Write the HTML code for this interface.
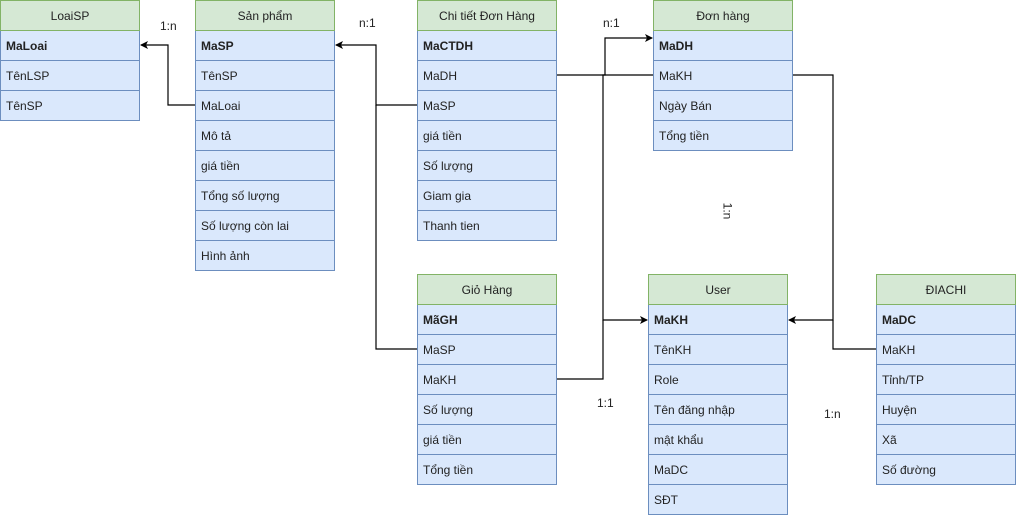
<!DOCTYPE html>
<html><head><meta charset="utf-8"><style>
body{margin:0;width:1017px;height:515px;background:#fff;position:relative;overflow:hidden;font-family:"Liberation Sans",Arial,sans-serif;font-size:12px;color:#222}
.t{position:absolute;width:140px}
.h{height:29px;background:#d5e8d4;border:1px solid #82b366;text-align:center;line-height:30px;box-sizing:content-box;width:138px}
.r{height:29px;background:#dae8fc;border:1px solid #6c8ebf;border-top:none;line-height:31px;padding-left:5px;width:133px}
.b{font-weight:bold}
.l{position:absolute;font-size:12px;color:#222}
svg{position:absolute;left:0;top:0}
</style></head><body>
<svg width="1017" height="515">
<defs><marker id="a" markerWidth="8" markerHeight="8" refX="7" refY="4" orient="auto" markerUnits="userSpaceOnUse"><path d="M0,0 L8,4 L0,8 L2,4 Z" fill="#000"/></marker></defs>
<g fill="none" stroke="#000" stroke-width="1.2">
<polyline points="195,105 168,105 168,45 141,45" marker-end="url(#a)"/>
<polyline points="417,105 376,105 376,45 336,45" marker-end="url(#a)"/>
<polyline points="417,349 376,349 376,105"/>
<polyline points="557,75 605,75 605,38 652,38" marker-end="url(#a)"/>
<polyline points="653,75 603,75 603,320 647,320" marker-end="url(#a)"/>
<polyline points="557,379 603,379 603,320"/>
<polyline points="793,75 833,75 833,320 789,320" marker-end="url(#a)"/>
<polyline points="876,349 833,349 833,320"/>
</g></svg>
<div class="t" style="left:0;top:0"><div class="h">LoaiSP</div><div class="r b">MaLoai</div><div class="r">TênLSP</div><div class="r">TênSP</div></div>
<div class="t" style="left:195px;top:0"><div class="h">Sản phẩm</div><div class="r b">MaSP</div><div class="r">TênSP</div><div class="r">MaLoai</div><div class="r">Mô tả</div><div class="r">giá tiền</div><div class="r">Tổng số lượng</div><div class="r">Số lượng còn lai</div><div class="r">Hình ảnh</div></div>
<div class="t" style="left:417px;top:0"><div class="h">Chi tiết Đơn Hàng</div><div class="r b">MaCTDH</div><div class="r">MaDH</div><div class="r">MaSP</div><div class="r">giá tiền</div><div class="r">Số lượng</div><div class="r">Giam gia</div><div class="r">Thanh tien</div></div>
<div class="t" style="left:653px;top:0"><div class="h">Đơn hàng</div><div class="r b">MaDH</div><div class="r">MaKH</div><div class="r">Ngày Bán</div><div class="r">Tổng tiền</div></div>
<div class="t" style="left:417px;top:274px"><div class="h">Giỏ Hàng</div><div class="r b">MãGH</div><div class="r">MaSP</div><div class="r">MaKH</div><div class="r">Số lượng</div><div class="r">giá tiền</div><div class="r">Tổng tiền</div></div>
<div class="t" style="left:648px;top:274px"><div class="h">User</div><div class="r b">MaKH</div><div class="r">TênKH</div><div class="r">Role</div><div class="r">Tên đăng nhập</div><div class="r">mật khẩu</div><div class="r">MaDC</div><div class="r">SĐT</div></div>
<div class="t" style="left:876px;top:274px"><div class="h">ĐIACHI</div><div class="r b">MaDC</div><div class="r">MaKH</div><div class="r">Tỉnh/TP</div><div class="r">Huyện</div><div class="r">Xã</div><div class="r">Số đường</div></div>
<div class="l" style="left:160px;top:19px">1:n</div>
<div class="l" style="left:359px;top:16px">n:1</div>
<div class="l" style="left:603px;top:16px">n:1</div>
<div class="l" style="left:719px;top:204px;transform:rotate(90deg)">1:n</div>
<div class="l" style="left:597px;top:396px">1:1</div>
<div class="l" style="left:824px;top:407px">1:n</div>
</body></html>
